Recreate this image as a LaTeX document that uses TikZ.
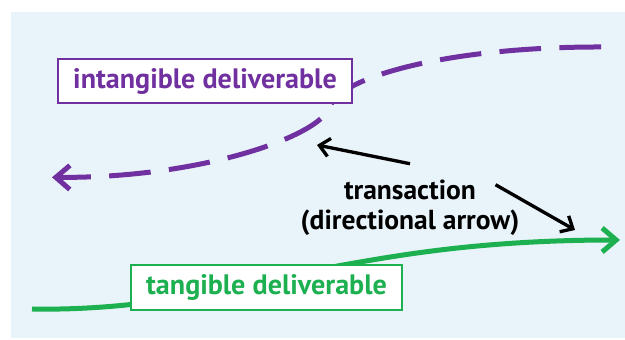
\documentclass[tikz,border=0pt]{standalone}
\usepackage{fontspec}
\setmainfont{PT Sans}
\usetikzlibrary{arrows.meta}
\definecolor{bgblue}{HTML}{E8F3FA}
\definecolor{delpurple}{HTML}{7030A0}
\definecolor{delgreen}{HTML}{1DB050}
\tikzset{
    delbox/.style={draw, fill=white, line width=0.045cm, inner sep=0pt,
        font=\fontsize{24}{28}\selectfont\bfseries},
    flow/.style={line width=0.15cm, -{Straight Barb[length=0.42cm, width=0.72cm]}},
    pointer/.style={line width=0.1cm, black, -{Straight Barb[length=0.3cm, width=0.55cm]}}
}
\begin{document}
\begin{tikzpicture}
                \useasboundingbox (0,0) rectangle (18.75,10.2) ;
                \fill[white] (0,0) rectangle (18.75,10.2) ;
                \fill[bgblue] (0.33,0.06) rectangle (18.75,9.84) ;
                \coordinate (pstart) at (18.03,8.79) ;
                \coordinate (pend) at (1.56,4.88) ;
                \coordinate (gstart) at (0.96,0.93) ;
                \coordinate (gend) at (18.6,3.0) ;
                \coordinate (hitA) at (9.51,5.85) ;
                \coordinate (hitB) at (17.25,3.3) ;
                \draw[flow, color=delpurple, dash pattern=on 1.25cm off 0.55cm] (pstart) .. controls (13.5,8.8) and (10.2,7.9) .. (9.9,7.0) .. controls (9.6,6.1) and (6,4.85) .. (pend) ;
                \draw[flow, color=delgreen] (gstart) .. controls (5,0.85) and (8.6,1.95) .. (10.29,2.25) .. controls (12,2.55) and (14.5,3.0) .. (gend) ;
                \node[delbox, draw=delpurple, text=delpurple, minimum width=8.82cm, minimum height=1.32cm] (intang) at (6.15,7.77) {intangible deliverable} ;
                \node[delbox, draw=delgreen, text=delgreen, minimum width=8.13cm, minimum height=1.35cm] (tang) at (7.995,1.575) {tangible deliverable} ;
                \node[align=center, inner sep=0pt, font=\fontsize{23.5}{26}\selectfont\bfseries] (trans) at (12.3,3.96) {transaction\\(directional arrow)} ;
                \draw[pointer] ([yshift=0.48cm]trans.north) -- (hitA) ;
                \draw[pointer] ([xshift=-0.72cm, yshift=-0.15cm]trans.north east) -- (hitB) ;
            \end{tikzpicture}
\end{document}
